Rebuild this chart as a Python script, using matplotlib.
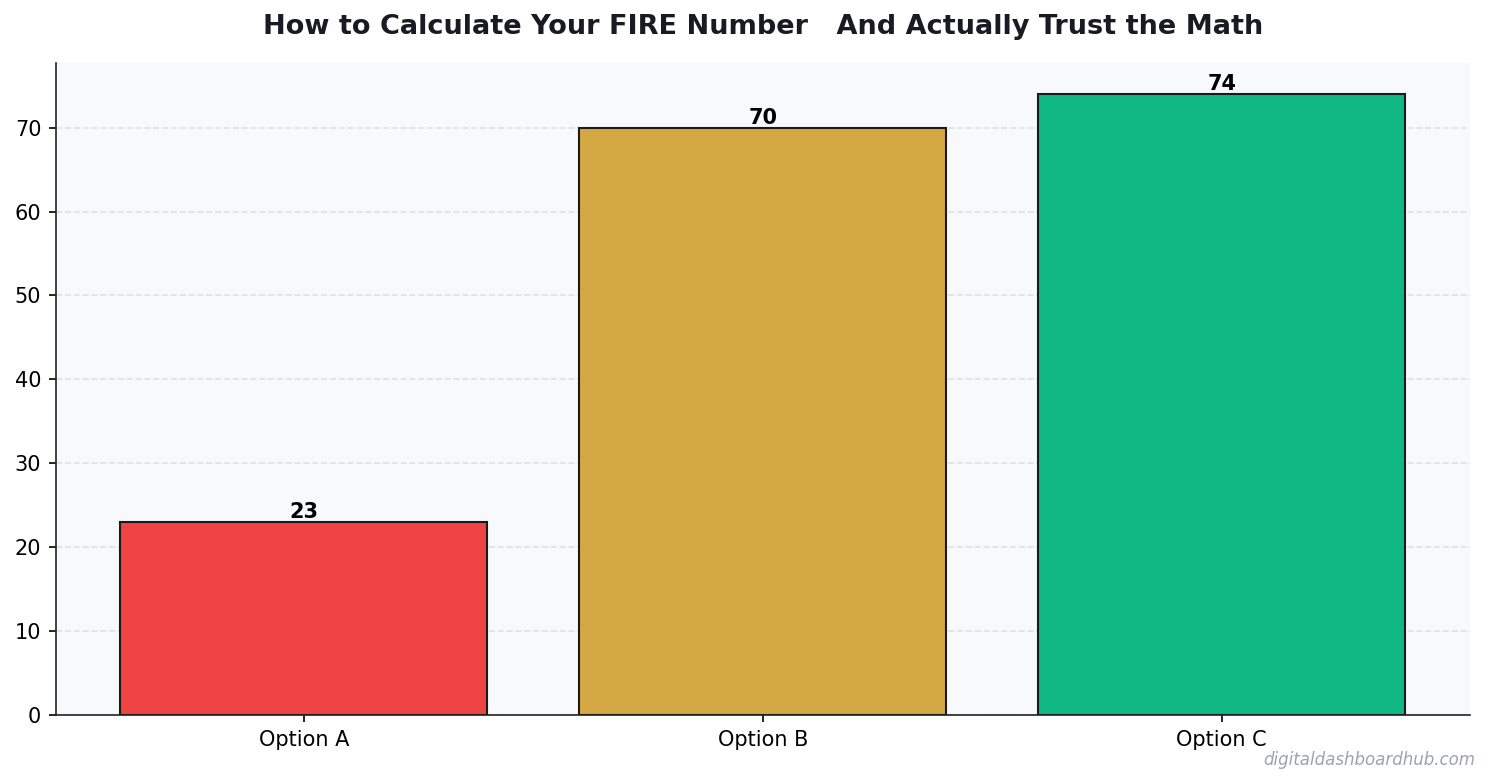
import matplotlib
matplotlib.use("Agg")
import matplotlib.pyplot as plt

# data
categories = ["Option A", "Option B", "Option C"]
values = [23, 70, 74]
colors = ["#EF4444", "#D4A843", "#10B981"]

title = "How to Calculate Your FIRE Number   And Actually Trust the Math"

fig, ax = plt.subplots(figsize=(9.947, 5.22), dpi=150)
fig.subplots_adjust(left=0.0375, right=0.985, top=0.9195, bottom=0.0868)
ax.set_facecolor("#F8F9FA")

bars = ax.bar(categories, values, color=colors, edgecolor="#1a1a1a", linewidth=1.0, width=0.8)
for b, v in zip(bars, values):
    ax.text(b.get_x() + b.get_width() / 2, v, str(v), ha="center", va="bottom",
            fontsize=10, fontweight="bold", color="black")

ax.set_ylim(0, max(values) * 1.05)
ax.set_axisbelow(True)
ax.grid(axis="y", linestyle="--", color="#d0d0d0", alpha=0.6, linewidth=0.8)
ax.spines["top"].set_visible(False)
ax.spines["right"].set_visible(False)
ax.spines["left"].set_color("#222222")
ax.spines["bottom"].set_color("#222222")
ax.tick_params(labelsize=10)

ax.set_title(title, fontsize=13, fontweight="bold", color="#1a1a24", pad=14)
fig.text(0.989, 0.018, "digitaldashboardhub.com", ha="right", va="bottom",
         fontsize=8, style="italic", color="#9ca3af")

fig.savefig("out.png", dpi=150)
